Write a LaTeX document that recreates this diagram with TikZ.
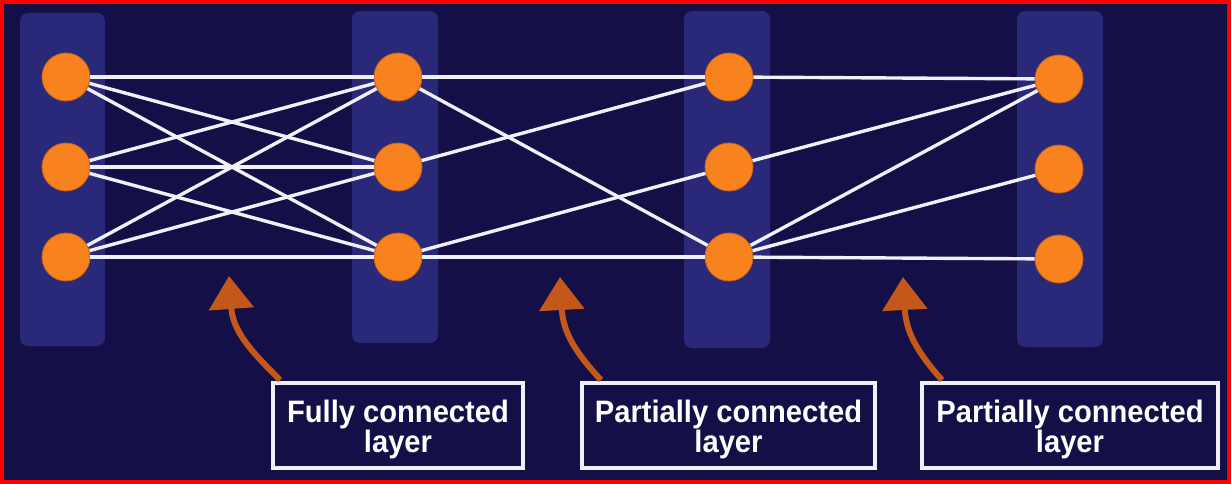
\documentclass[tikz,border=0pt]{standalone}
\usepackage{fontspec}
\newfontfamily\lblfont[FakeStretch=0.94]{Liberation Sans}
\usetikzlibrary{arrows.meta}
\definecolor{bg}{HTML}{140F46}
\definecolor{colfill}{HTML}{2A2878}
\definecolor{neuronfill}{HTML}{F7821E}
\definecolor{neuronedge}{HTML}{C9621A}
\definecolor{pointercol}{HTML}{C4581A}
\definecolor{chalk}{HTML}{F0F0F6}
\definecolor{frame}{HTML}{FF0000}
\begin{document}
\begin{tikzpicture}[x=1pt,y=-1pt,
  layerbar/.style={fill=colfill, rounded corners=8pt},
  neuron/.style={circle, fill=neuronfill, draw=neuronedge, line width=0.8pt, minimum size=48pt, inner sep=0pt},
  link/.style={draw=chalk, line width=3.4pt},
  pointer/.style={draw=pointercol, line width=6pt, -{Triangle[length=33pt,width=44pt]}},
  caption/.style={draw=chalk, line width=3.2pt, text=white, align=center,
    font=\lblfont\bfseries\fontsize{31}{28}\selectfont, minimum height=85pt, inner sep=0pt}
]
\useasboundingbox (0,0) rectangle (1231,484);
\fill[bg] (0,0) rectangle (1231,484);
\draw[frame, line width=4pt] (2,2) rectangle (1229,482);

% layer bars
\fill[layerbar] (20,13) rectangle (105,346);
\fill[layerbar] (352,11) rectangle (438,343);
\fill[layerbar] (684,11) rectangle (770,348);
\fill[layerbar] (1017,11) rectangle (1103,347);

% neurons
\node[neuron] (a1) at (66,77) {};
\node[neuron] (a2) at (66,167) {};
\node[neuron] (a3) at (66,257) {};
\node[neuron] (b1) at (398,77) {};
\node[neuron] (b2) at (398,167) {};
\node[neuron] (b3) at (398,257) {};
\node[neuron] (c1) at (729,77) {};
\node[neuron] (c2) at (729,167) {};
\node[neuron] (c3) at (729,257) {};
\node[neuron] (d1) at (1059,79) {};
\node[neuron] (d2) at (1059,169) {};
\node[neuron] (d3) at (1059,259) {};

% fully connected
\foreach \s in {a1,a2,a3}{
  \foreach \t in {b1,b2,b3}{
    \draw[link] (\s) -- (\t);
  }
}
% partially connected
\draw[link] (b1) -- (c1);
\draw[link] (b1) -- (c3);
\draw[link] (b2) -- (c1);
\draw[link] (b3) -- (c2);
\draw[link] (b3) -- (c3);
\draw[link] (c1) -- (d1);
\draw[link] (c2) -- (d1);
\draw[link] (c3) -- (d1);
\draw[link] (c3) -- (d2);
\draw[link] (c3) -- (d3);

% captions
\node[caption, minimum width=250pt] (l1) at (398,425.5) {\rule{0pt}{31pt}Fully connected\\layer};
\node[caption, minimum width=293pt] (l2) at (728.5,425.5) {\rule{0pt}{31pt}Partially connected\\layer};
\node[caption, minimum width=296pt] (l3) at (1070,425.5) {\rule{0pt}{31pt}Partially connected\\layer};

% pointers
\coordinate (t1) at (280,380);
\coordinate (h1) at (229,276);
\coordinate (t2) at (601,380);
\coordinate (h2) at (560,277);
\coordinate (t3) at (942,380);
\coordinate (h3) at (903,277);
\draw[pointer] (t1) .. controls (252,352) and (233,332) .. (h1);
\draw[pointer] (t2) .. controls (575,352) and (563,332) .. (h2);
\draw[pointer] (t3) .. controls (917,352) and (906,332) .. (h3);
\end{tikzpicture}
\end{document}
